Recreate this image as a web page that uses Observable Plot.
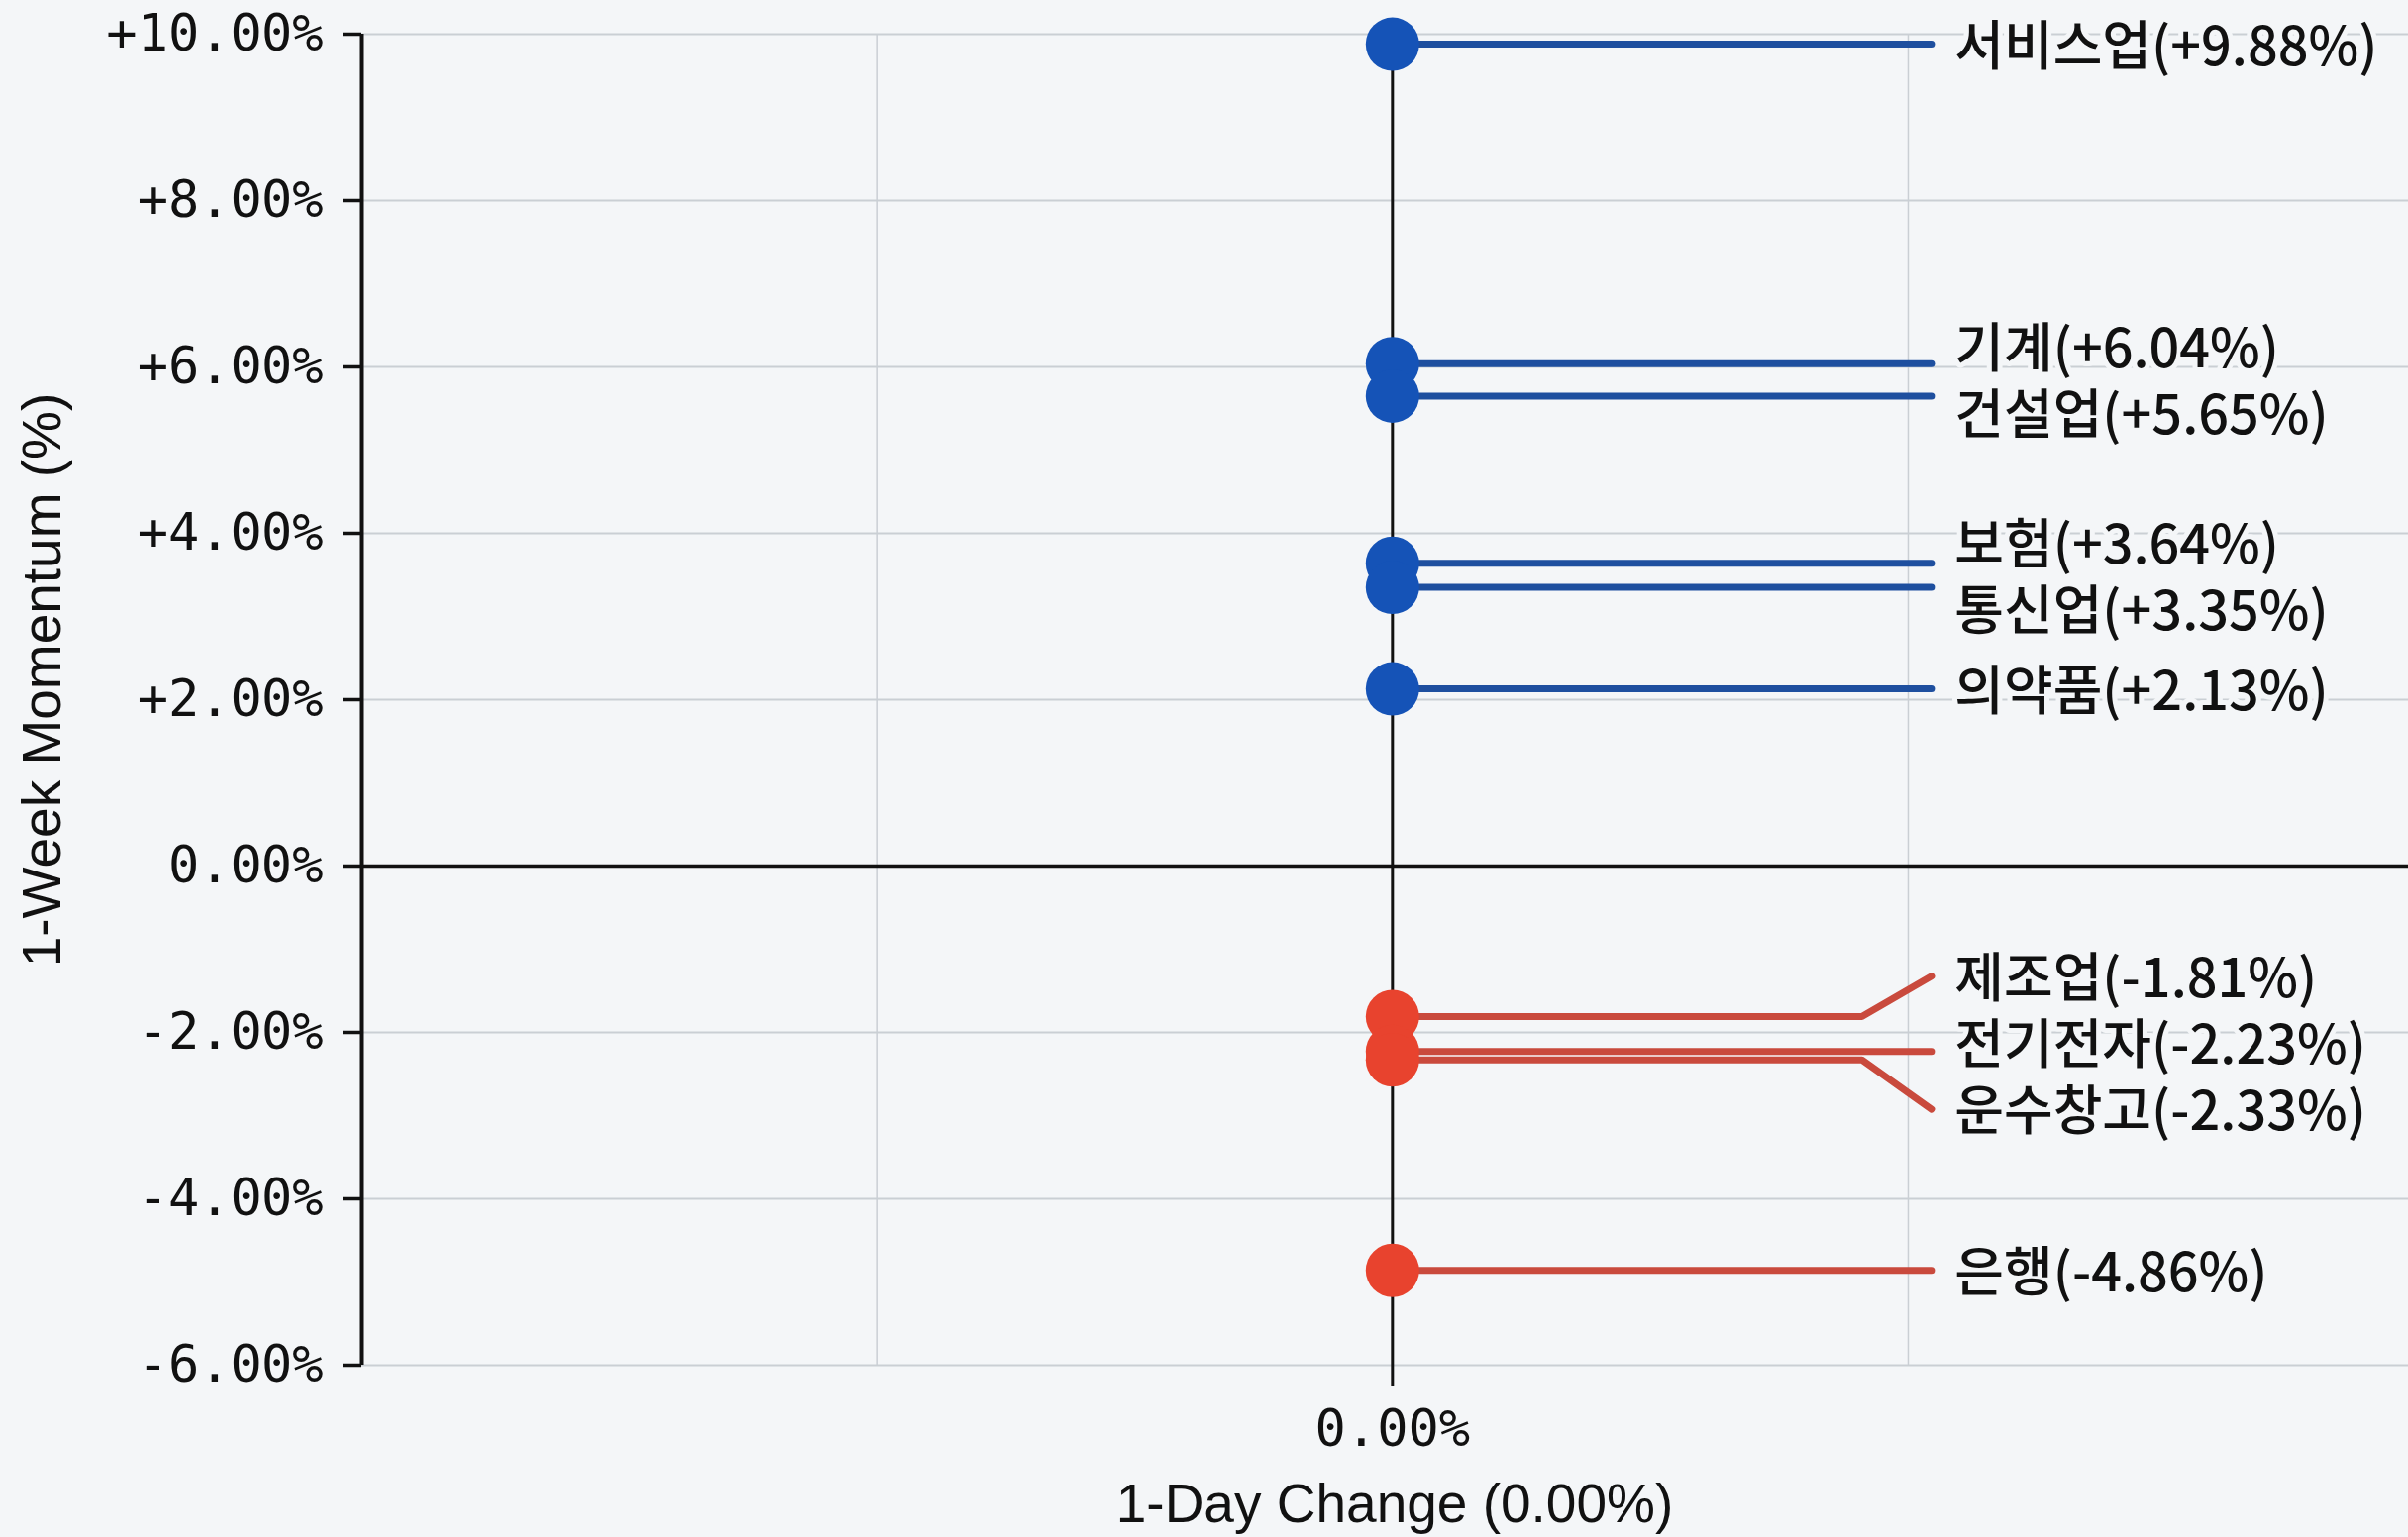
<!DOCTYPE html>
<html><head><meta charset="utf-8">
<script src="https://cdn.jsdelivr.net/npm/d3@7"></script>
<script src="https://cdn.jsdelivr.net/npm/@observablehq/plot@0.6"></script>
<style>
html,body{margin:0;padding:0;background:#f4f6f8;overflow:hidden;}
#chart svg{display:block;}
</style></head><body><div id="chart"></div>
<script>
const sectors = ["서비스업","기계","건설업","보험","통신업","의약품","제조업","전기전자","운수창고","은행"];
const weekMomentum = [9.88,6.04,5.65,3.64,3.35,2.13,-1.81,-2.23,-2.33,-4.86];
const dayChange = [0,0,0,0,0,0,0,0,0,0];
const yTicks = [-6,-4,-2,0,2,4,6,8,10];
const xTicks = [0];
const xGridValues = [-1,0,1];
const xAxisTitle = "1-Day Change (0.00%)";
const yAxisTitle = "1-Week Momentum (%)";

const BG = "#f4f6f8";
const BLUE = "#1553b7", RED = "#e8432e";
const BLUE_LINE = "#1e4f9f", RED_LINE = "#c94a3d";
const fmtPct = d => (d > 0 ? "+" : "") + d.toFixed(2) + "%";

const rows = sectors.map((s, i) => ({sector: s, x: dayChange[i], y: weekMomentum[i]}));

// simple label dodge (min gap in y units), groups centred on their mean
function dodge(items, gap) {
  const sorted = items.slice().sort((a, b) => b.y - a.y);
  let groups = sorted.map(d => ({items: [d]}));
  const pos = g => {
    const c = d3.mean(g.items, d => d.y);
    const n = g.items.length;
    return g.items.map((d, i) => c + gap * ((n - 1) / 2 - i));
  };
  let merged = true;
  while (merged) {
    merged = false;
    for (let i = 0; i < groups.length - 1; i++) {
      const a = pos(groups[i]), b = pos(groups[i + 1]);
      if (a[a.length - 1] - b[0] < gap) {
        groups.splice(i, 2, {items: groups[i].items.concat(groups[i + 1].items)});
        merged = true; break;
      }
    }
  }
  groups.forEach(g => { const p = pos(g); g.items.forEach((d, i) => d.ly = p[i]); });
}
dodge(rows, 0.8);

const bendX = 0.91, endX = 1.045, textX = 1.09;
const leader = [];
rows.forEach(d => {
  const endY = Math.abs(d.ly - d.y) > 0.3 ? d.ly : d.y;
  leader.push({sector: d.sector, x: d.x, y: d.y, pos: d.y >= 0});
  leader.push({sector: d.sector, x: bendX, y: d.y, pos: d.y >= 0});
  leader.push({sector: d.sector, x: endX, y: endY, pos: d.y >= 0});
});

const chart = Plot.plot({
  width: 2431, height: 1552,
  marginTop: 34, marginBottom: 174, marginLeft: 364, marginRight: 0,
  style: {background: "transparent", fontFamily: "'DejaVu Sans Mono', monospace", fontSize: "52px", color: "#111"},
  x: {domain: [-2, 1.97], axis: null},
  y: {domain: [-6, 10], axis: null},
  marks: [
    Plot.gridY(yTicks, {stroke: "#cacfd4", strokeOpacity: 1, strokeWidth: 2}),
    Plot.gridX(xGridValues, {stroke: "#cacfd4", strokeOpacity: 1, strokeWidth: 1.5}),
    Plot.ruleY([0], {stroke: "#111", strokeWidth: 3.5}),
    Plot.ruleX([0], {stroke: "#111", strokeWidth: 3}),
    Plot.axisY(yTicks, {tickFormat: fmtPct, tickSize: 18, tickPadding: 20, strokeWidth: 3.5, stroke: "#111", label: null}),
    Plot.ruleX([-2], {y1: -6, y2: 10, stroke: "#111", strokeWidth: 4}),
    Plot.axisX(xTicks, {tickFormat: fmtPct, tickSize: 22, tickPadding: 23, strokeWidth: 3, stroke: "#111", label: null}),
    Plot.line(leader, {x: "x", y: "y", z: "sector", stroke: d => d.pos ? BLUE_LINE : RED_LINE, strokeWidth: 7, curve: "linear"}),
    Plot.dot(rows, {x: "x", y: "y", r: 27, fill: d => d.y >= 0 ? BLUE : RED}),
    Plot.text(rows, {x: () => textX, y: "ly", dy: 4, text: d => `${d.sector}(${fmtPct(d.y)})`, textAnchor: "start",
      fontSize: 54, fontWeight: 500, fontFamily: "'Noto Sans CJK KR', sans-serif", fill: "#111", stroke: BG, strokeWidth: 10}),
    Plot.text([yAxisTitle], {text: d => d, frameAnchor: "left", dx: -321, dy: -20, rotate: -90, textAnchor: "middle",
      fontSize: 55, fontFamily: "'Liberation Sans', sans-serif", fill: "#111"}),
    Plot.text([xAxisTitle], {text: d => d, frameAnchor: "bottom", dx: 10, dy: 141, lineAnchor: "middle", textAnchor: "middle",
      fontSize: 55, fontFamily: "'Liberation Sans', sans-serif", fill: "#111"})
  ]
});
document.getElementById("chart").appendChild(chart);
</script>
</body></html>
